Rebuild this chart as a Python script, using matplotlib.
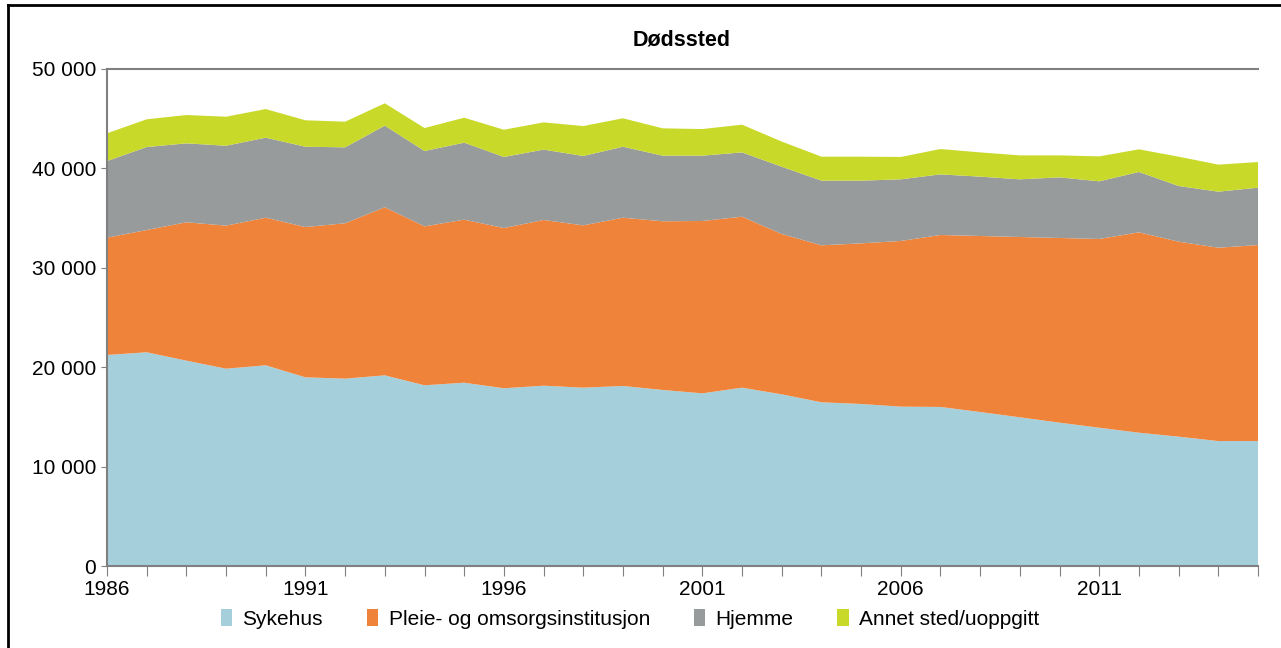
import matplotlib.pyplot as plt
from matplotlib.lines import Line2D
from matplotlib.patches import Patch
from matplotlib.ticker import FuncFormatter

plt.rcParams['font.family'] = ['Liberation Sans', 'DejaVu Sans']

years = list(range(1986, 2016))

# toppen av hver lagdel (kumulativ), lest av figuren
sykehus = [21230, 21500, 20660, 19850, 20190, 18980, 18850, 19180, 18180, 18440,
           17880, 18140, 17940, 18110, 17710, 17370, 17940, 17270, 16470, 16300,
           16030, 16000, 15490, 14960, 14420, 13910, 13410, 13010, 12570, 12570]
pleie_top = [33030, 33800, 34580, 34240, 35040, 34100, 34480, 36090, 34170, 34840,
             34000, 34810, 34270, 35040, 34680, 34710, 35140, 33400, 32260, 32460,
             32700, 33300, 33200, 33100, 33000, 32900, 33570, 32630, 32020, 32290]
hjemme_top = [40740, 42150, 42520, 42280, 43090, 42180, 42120, 44300, 41750, 42590,
              41150, 41890, 41250, 42180, 41280, 41280, 41610, 40170, 38770, 38770,
              38900, 39400, 39170, 38900, 39100, 38700, 39640, 38230, 37660, 38060]
total = [43530, 44940, 45370, 45200, 45970, 44840, 44700, 46550, 44060, 45100,
         43890, 44630, 44260, 45040, 44030, 43960, 44400, 42700, 41180, 41180,
         41150, 41950, 41610, 41310, 41310, 41210, 41920, 41180, 40380, 40640]

pleie = [b - a for a, b in zip(sykehus, pleie_top)]
hjemme = [b - a for a, b in zip(pleie_top, hjemme_top)]
annet = [b - a for a, b in zip(hjemme_top, total)]

labels = ['Sykehus', 'Pleie- og omsorgsinstitusjon', 'Hjemme', 'Annet sted/uoppgitt']
colors = ['#a6cfdc', '#f0833a', '#989b9b', '#c9d92a']

fig = plt.figure(figsize=(12.81, 6.48), dpi=100)
ax = fig.add_axes([107 / 1281, 1 - 566 / 648, (1258 - 107) / 1281, (566 - 69) / 648])

ax.stackplot(years, sykehus, pleie, hjemme, annet, colors=colors, linewidth=0)

ax.set_xlim(1986, 2015)
ax.set_ylim(0, 50000)
ax.set_yticks(range(0, 50001, 10000))
ax.yaxis.set_major_formatter(FuncFormatter(lambda v, p: f'{int(v):,}'.replace(',', ' ')))
ax.set_xticks(years)
ax.set_xticklabels([str(y) if (y - 1986) % 5 == 0 else '' for y in years])

for s in ['left', 'bottom', 'top']:
    ax.spines[s].set_color('#808080')
    ax.spines[s].set_linewidth(1.5)
ax.spines['right'].set_visible(False)
ax.tick_params(axis='x', length=7, color='#808080', labelsize=15, pad=3)
ax.tick_params(axis='y', length=4, color='#808080', labelsize=15, pad=4)

fig.text(682 / 1281, 1 - 40 / 648, 'Dødssted', ha='center', va='center',
         fontsize=15.5, fontweight='bold')

handles = [Patch(facecolor=c, edgecolor='none') for c in colors]
fig.legend(handles, labels, loc='center', ncol=4, frameon=False,
           bbox_to_anchor=(630 / 1281, 1 - 619 / 648), fontsize=15,
           handlelength=0.55, handleheight=0.9, handletextpad=0.5, columnspacing=2.1)

# ramme rundt figuren
fig.add_artist(Line2D([8 / 1281, 8 / 1281], [0, 1 - 5 / 648], color='black', lw=2))
fig.add_artist(Line2D([8 / 1281, 1], [1 - 5 / 648, 1 - 5 / 648], color='black', lw=2))

fig.savefig('out.png', dpi=100)
